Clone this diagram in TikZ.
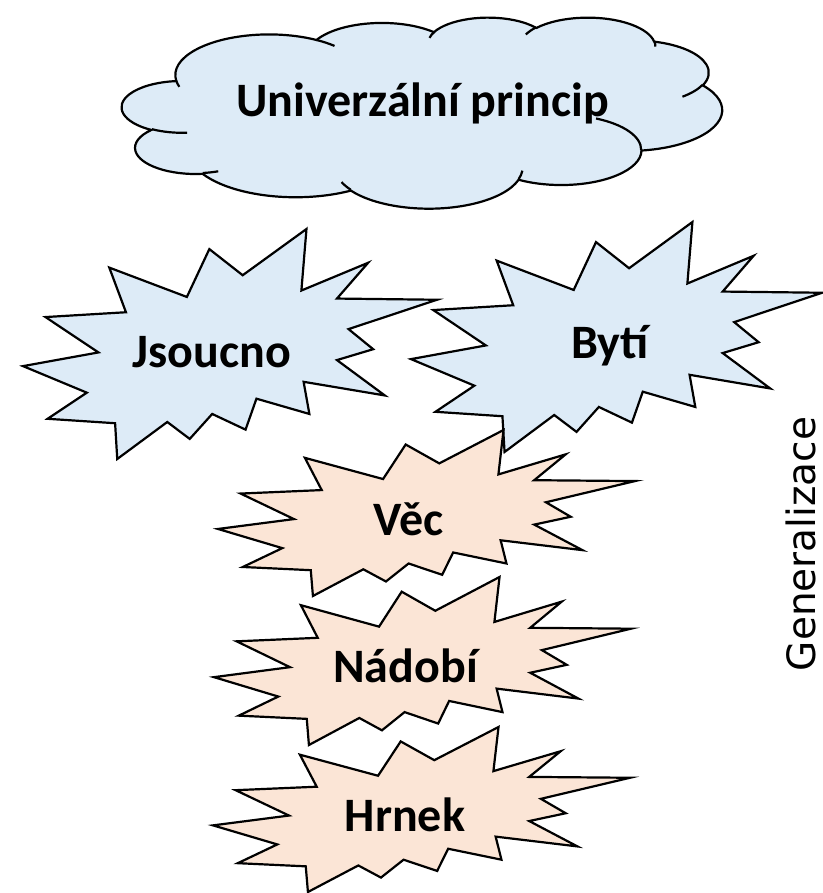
\documentclass[tikz,border=0pt]{standalone}
\usepackage{fontspec}
\setmainfont{Carlito}
\newfontfamily\sidefont{DejaVu Sans}
\definecolor{skyfill}{HTML}{DDEBF7}
\definecolor{peachfill}{HTML}{FBE5D6}
\tikzset{
  outline/.style={draw=black, line width=2.2pt, line join=miter},
  bluebox/.style={outline, fill=skyfill},
  peachbox/.style={outline, fill=peachfill},
  lbl/.style={font=\fontsize{48}{58}\selectfont\bfseries, inner sep=0pt, anchor=base},
  sidelbl/.style={font=\sidefont\fontsize{39}{46}\selectfont, inner sep=0pt, text depth=0pt, anchor=base, rotate=90},
}
\def\boompath{(114.62,43.42) -- (147.90,0) -- (145.25,57.77) -- (180.07,31.72) -- (163.80,65.32) -- (216,66.45) -- (169.85,94.02) -- (182.70,112.90) -- (163.80,123.10) -- (188.77,156.32) -- (146.40,143.50) -- (149.42,173.70) -- (121.80,159.35) -- (116.12,188.42) -- (98.72,173.70) -- (87.00,197.12) -- (75.27,181.25) -- (49.17,216) -- (48.05,182.40) -- (12.85,178.25) -- (33.30,153.70) -- (0,128.77) -- (39.35,115.92) -- (11.72,82.70) -- (53.72,78.17) -- (45.02,36.25) -- (85.50,63.82) -- (97.22,18.87) -- cycle}
\newcommand\boom[5]{%
  \begin{scope}[shift={(#1,#2)}, xscale=#3/216, yscale=#4/216]
    \path[#5] \boompath;
  \end{scope}}
\def\cldX{122}\def\cldY{17}\def\cldW{600}\def\cldH{191}
% arc of the cloud: visual angles converted to parametric ones in the unscaled grid
\newcommand\cldarc[5]{%
  \pgfmathsetmacro\crx{#2/4320*\cldW/10}%
  \pgfmathsetmacro\cry{#3/4320*\cldH/10}%
  \pgfmathsetmacro\cts{atan2(#2*sin(#4),#3*cos(#4))}%
  \pgfmathsetmacro\cte{atan2(#2*sin(#4+#5),#3*cos(#4+#5))}%
  \pgfmathsetmacro\cdt{\cte-\cts}%
  \pgfmathsetmacro\cdt{ifthenelse(\cdt<0,\cdt+360,\cdt)}%
  \edef#1{arc[start angle=\cts, delta angle=\cdt, x radius=\crx pt, y radius=\cry pt]}%
}
% coordinates given in tenths of the 43200 unit grid
\newcommand\cpt[2]{({\cldX+#1/432*\cldW/10},{\cldY+#2/432*\cldH/10})}
\begin{document}
\cldarc\cA{6753}{9190}{-190.4875}{123.7805}%
\cldarc\cB{5333}{7267}{-144.1024}{89.9452}%
\cldarc\cC{4365}{5945}{-145.8079}{99.7230}%
\cldarc\cD{4857}{6595}{-130.9861}{117.2417}%
\cldarc\cE{5333}{7273}{-78.7089}{109.0269}%
\cldarc\cF{6775}{9220}{-46.2673}{130.2690}%
\cldarc\cG{5785}{7867}{0.6250}{114.0333}%
\cldarc\cH{6752}{9215}{22.4516}{115.1726}%
\cldarc\cI{7720}{10543}{66.2426}{75.7110}%
\cldarc\cJ{4360}{5918}{-274.9421}{146.7356}%
\cldarc\cK{4345}{5945}{-246.8285}{152.5189}%
\cldarc\iA{4345}{5945}{86.7420}{26.4295}%
\cldarc\iB{4360}{5918}{73.6105}{11.4475}%
\cldarc\iC{6752}{9215}{137.6242}{14.0811}%
\cldarc\iD{6752}{9215}{6.4533}{15.9984}%
\cldarc\iE{5785}{7867}{-70.2924}{70.9174}%
\cldarc\iF{5333}{7273}{30.3180}{27.7515}%
\cldarc\iG{4857}{6595}{-13.7443}{14.8536}%
\cldarc\iH{4857}{6595}{-149.1815}{18.1969}%
\cldarc\iI{4365}{5945}{-163.4943}{17.6875}%
\cldarc\iJ{6753}{9190}{-66.7070}{12.3194}%
\cldarc\iK{6753}{9190}{157.6544}{11.8582}%
\begin{tikzpicture}[x=1pt, y=1pt, yscale=-1]
  \useasboundingbox (0,0) rectangle (822,893);
  % cloud
  \path[bluebox] \cpt{390}{1437} \cA \cB \cC \cD \cE \cF \cG \cH \cI \cJ \cK -- cycle;
  \draw[outline] \cpt{469.3}{2617.7} \iA;
  \draw[outline] \cpt{692.8}{3489.9} \iB;
  \draw[outline] \cpt{1647.8}{3909.0} \iC;
  \draw[outline] \cpt{2882.7}{3475.1} \iD;
  \draw[outline] \cpt{3412.9}{2295.4} \iE;
  \draw[outline] \cpt{4179.8}{1535.4} \iF;
  \draw[outline] \cpt{3832.4}{542.6} \iG;
  \draw[outline] \cpt{2907.8}{395.2} \iH;
  \draw[outline] \cpt{2214.1}{472.0} \iI;
  \draw[outline] \cpt{1400.0}{519.2} \iJ;
  \draw[outline] \cpt{412.7}{1578.9} \iK;
  % explosions
  \boom{23}{229}{414}{230}{bluebox}
  \boom{411}{222}{411}{230}{bluebox}
  \boom{218}{430}{417}{166}{peachbox}
  \boom{214}{577}{417}{168}{peachbox}
  \boom{213}{727}{417}{165}{peachbox}
  % labels
  \node[lbl] (princip) at (422.5,117) {Univerzální princip};
  \node[lbl] (jsoucno) at (212,367) {Jsoucno};
  \node[lbl] (byti) at (610,358) {Bytí};
  \node[lbl] (vec) at (409,535) {Věc};
  \node[lbl] (nadobi) at (405.5,682) {Nádobí};
  \node[lbl] (hrnek) at (405,831) {Hrnek};
  \node[sidelbl] (gen) at (815,544) {Generalizace};
\end{tikzpicture}
\end{document}
